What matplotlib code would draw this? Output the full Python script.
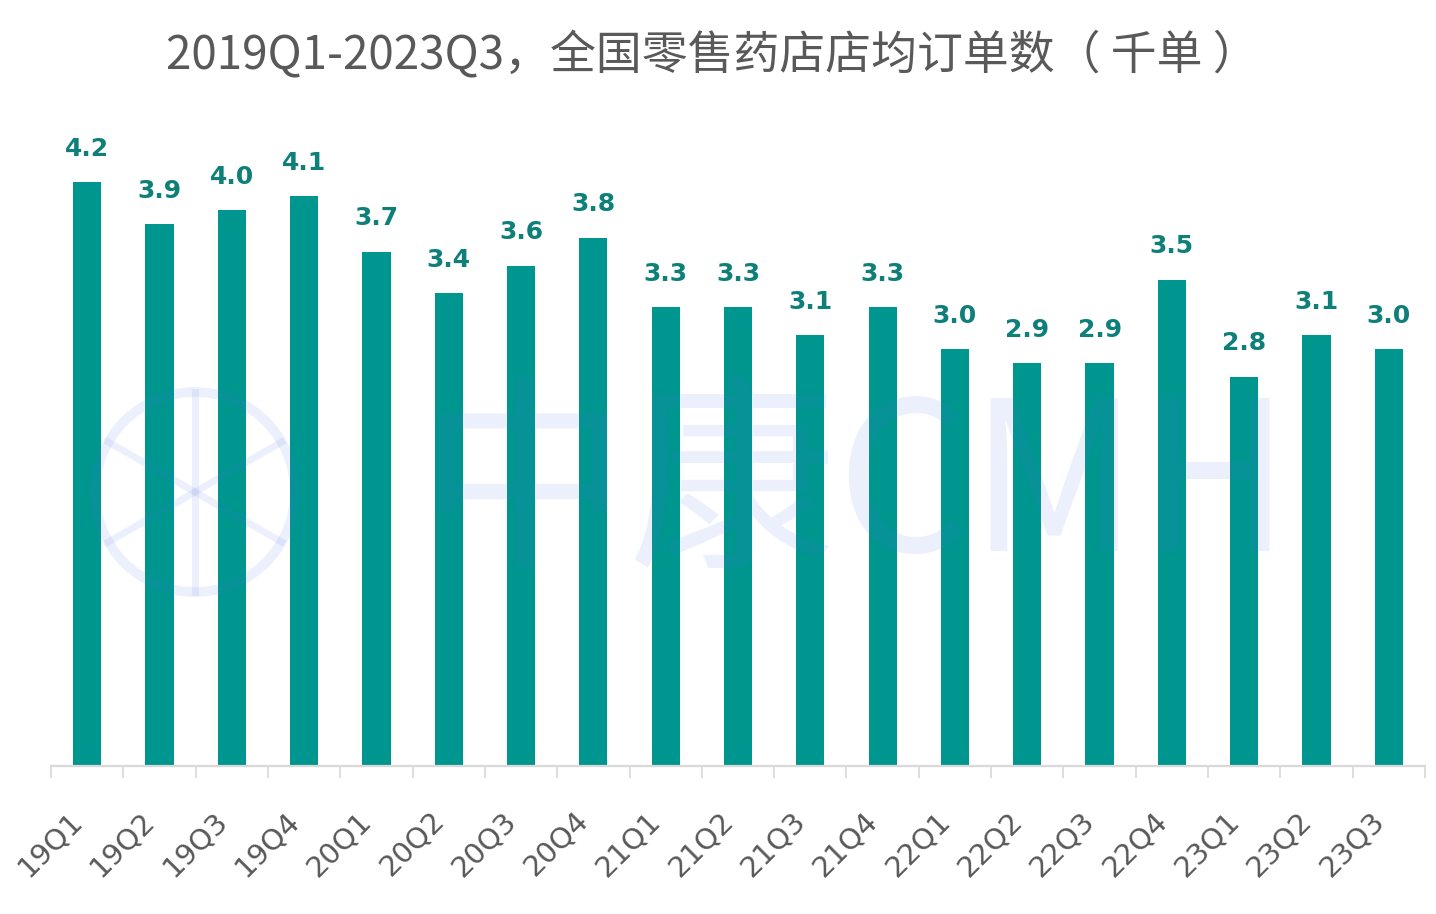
import numpy as np
import matplotlib
matplotlib.use("Agg")
import matplotlib.pyplot as plt
from matplotlib.patches import Circle
from matplotlib.lines import Line2D
from matplotlib.transforms import IdentityTransform, ScaledTranslation

plt.rcParams['font.family'] = ['DejaVu Sans', 'Noto Sans CJK SC']

categories = ['19Q1', '19Q2', '19Q3', '19Q4', '20Q1', '20Q2', '20Q3', '20Q4',
              '21Q1', '21Q2', '21Q3', '21Q4', '22Q1', '22Q2', '22Q3', '22Q4',
              '23Q1', '23Q2', '23Q3']
values = [4.2, 3.9, 4.0, 4.1, 3.7, 3.4, 3.6, 3.8,
          3.3, 3.3, 3.1, 3.3, 3.0, 2.9, 2.9, 3.5,
          2.8, 3.1, 3.0]
title = '2019Q1-2023Q3，全国零售药店店均订单数（ 千单 ）'

W, H = 1436, 914
fig = plt.figure(figsize=(W / 100, H / 100), dpi=100)
ax = fig.add_axes([51 / W, (H - 766) / H, 1374 / W, (766 - 120) / H])

x = np.arange(len(categories))
ax.bar(x, values, width=0.39, color='#009690', zorder=2)
ax.set_xlim(-0.5, len(categories) - 0.5)
ax.set_ylim(0, 646 / 139)

for i, v in zip(x, values):
    ax.annotate(f'{v:.1f}', (i, v), xytext=(0, 19), textcoords='offset points',
                ha='center', va='baseline', fontsize=18, fontweight='bold',
                color='#0f7f79', family='DejaVu Sans')

for s in ['top', 'left', 'right']:
    ax.spines[s].set_visible(False)
ax.spines['bottom'].set_color('#d9d9d9')
ax.spines['bottom'].set_linewidth(1.6)
ax.set_yticks([])

ax.set_xticks(x)
ax.set_xticklabels(categories, rotation=45, rotation_mode='anchor',
                   ha='right', va='center', fontsize=21, color='#595959',
                   family='DejaVu Sans')
ax.tick_params(axis='x', which='major', length=0, pad=36)
ax.set_xticks(np.arange(-0.5, len(categories), 1.0), minor=True)
ax.tick_params(axis='x', which='minor', length=8.6, width=1.2, color='#d9d9d9',
               direction='out')
offset = ScaledTranslation(-9 / 100, 0, fig.dpi_scale_trans)
for lbl in ax.get_xticklabels():
    lbl.set_transform(lbl.get_transform() + offset)

fig.text(712 / W, 1 - 55 / H, title, ha='center', va='center', fontsize=33,
         color='#595959', family=['Noto Sans CJK SC', 'DejaVu Sans'])

# watermark
wm = '#4a6fe3'
fig.text(855 / W, 1 - 492 / H, '中康CMH', ha='center', va='center', fontsize=150,
         color=wm, alpha=0.1, family=['Noto Sans CJK SC', 'DejaVu Sans'],
         zorder=5)
cx, cy, r = 195, H - 492, 100
fig.add_artist(Circle((cx, cy), r, transform=IdentityTransform(), fill=False,
                      ec=wm, lw=7, alpha=0.1, zorder=5))
for ang in [30, 90, 150]:
    a = np.deg2rad(ang)
    fig.add_artist(Line2D([cx - r * np.cos(a), cx + r * np.cos(a)],
                          [cy - r * np.sin(a), cy + r * np.sin(a)],
                          transform=IdentityTransform(), color=wm, lw=5,
                          alpha=0.1, zorder=5))

fig.savefig('out.png', dpi=100, facecolor='white')
